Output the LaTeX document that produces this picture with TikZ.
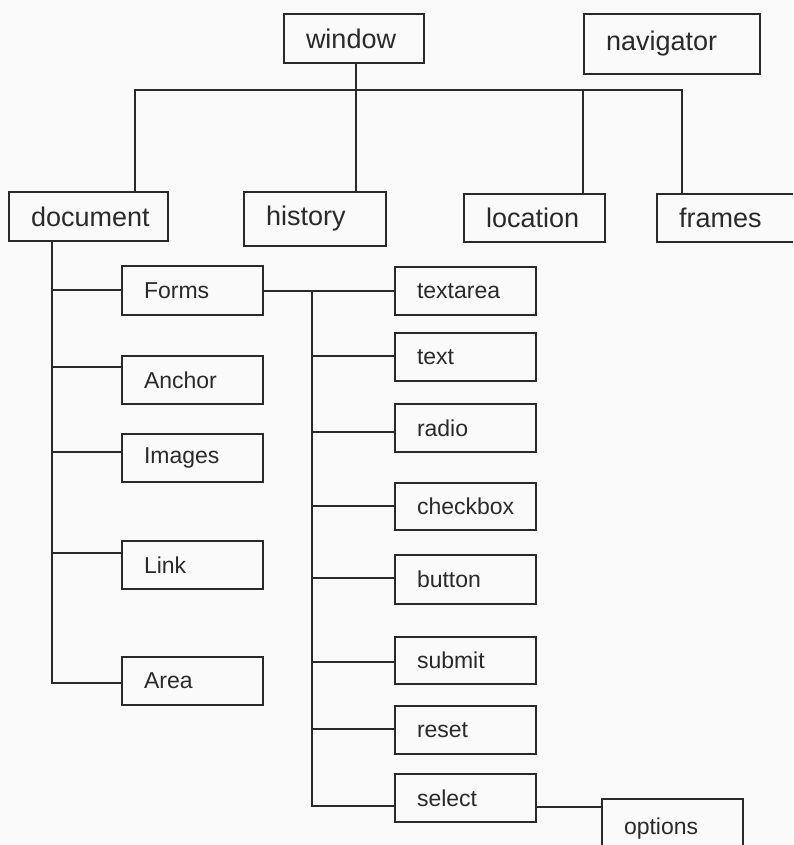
\documentclass[tikz,border=0pt]{standalone}
\usepackage{fontspec}
\setmainfont{Liberation Sans}
\usepackage{xcolor}
\definecolor{ink}{HTML}{2A2A2A}
\definecolor{paper}{HTML}{FAFAFA}

\begin{document}
\begin{tikzpicture}[x=1pt,y=-1pt,line width=2pt,draw=ink,line join=miter,
    box/.style={draw=ink,text=ink,anchor=north west,inner xsep=22pt,inner ysep=0pt,
        align=left,text width=97pt,minimum height=48pt,font=\fontsize{23}{26}\selectfont},
    top box/.style={box,font=\fontsize{27}{30}\selectfont}]

                \fill[paper] (0,0) rectangle (793,845);
                \clip (0,0) rectangle (793,845);

                % top row
                \node (window) [top box,text width=96pt,minimum height=49pt] at (283,13) {window};
                \node (navigator) [top box,text width=132pt,minimum height=60pt] at (583,13) {navigator};

                \node (document) [top box,text width=115pt,minimum height=49pt] at (8,191) {document};
                \node (history) [top box,text width=98pt,minimum height=54pt] at (243,191) {history};
                \node (location) [top box] at (463,193) {location};
                \node (frames) [top box,text width=106pt] at (656,193) {frames};

                % children of document
                \node (Forms) [box,minimum height=49pt] at (121,265) {Forms};
                \node (Anchor) [box] at (121,355) {Anchor};
                \node (Images) [box] at (121,433) {Images};
                \node (Link) [box] at (121,540) {Link};
                \node (Area) [box] at (121,656) {Area};

                % children of Forms
                \node (textarea) [box] at (394,266) {textarea};
                \node (text) [box] at (394,332) {text};
                \node (radio) [box] at (394,403) {radio};
                \node (checkbox) [box,minimum height=47pt] at (394,482) {checkbox};
                \node (button) [box,minimum height=49pt] at (394,554) {button};
                \node (submit) [box,minimum height=47pt] at (394,636) {submit};
                \node (reset) [box] at (394,705) {reset};
                \node (select) [box] at (394,773) {select};
                \node (options) [box,minimum height=60pt] at (601,798) {options};

                % bus under window
                \coordinate (w1) at (356,90);
                \coordinate (b1) at (135,90);
                \coordinate (b2) at (682,90);
                \coordinate (b3) at (583,90);
                \draw (w1 |- window.south) -- (w1 |- history.north);
                \draw (b1 |- document.north) |- (b2) -- (b2 |- frames.north);
                \draw (b3) -- (b3 |- location.north);

                % document trunk
                \coordinate (d0) at (52,683);
                \draw (d0 |- document.south) |- (Area.west |- d0);
                \foreach \n/\y in {Forms/290,Anchor/367,Images/452,Link/553}
                    \draw (52,\y) -- (\n.west |- 0,\y);

                % Forms trunk
                \coordinate (f0) at (312,806);
                \draw (Forms.east |- 0,291) -- (textarea.west |- 0,291);
                \draw (f0 |- 0,291) |- (select.west |- f0);
                \foreach \n/\y in {text/356,radio/432,checkbox/506,button/578,submit/662,reset/729}
                    \draw (312,\y) -- (\n.west |- 0,\y);

                \draw (select.east |- 0,807) -- (options.west |- 0,807);
\end{tikzpicture}
\end{document}
